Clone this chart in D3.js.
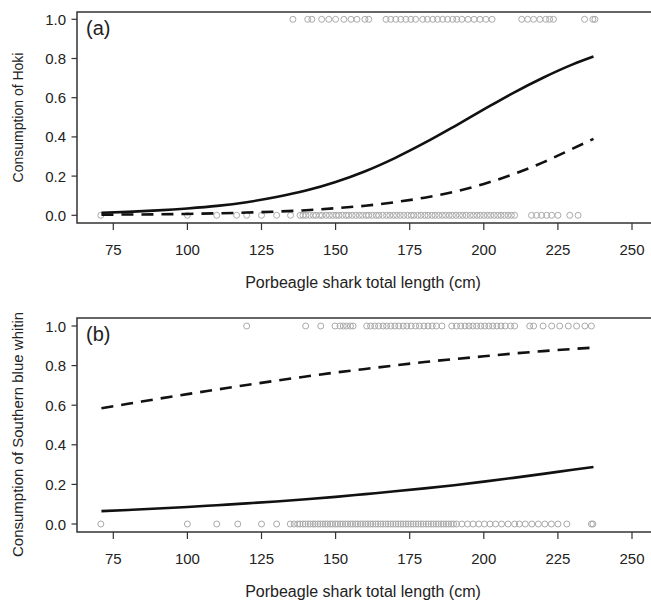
<!DOCTYPE html>
<html>
<head>
<meta charset="utf-8">
<script src="https://cdn.jsdelivr.net/npm/d3@7"></script>
<style>
  body { margin: 0; background: #fff; }
  svg { font-family: "Liberation Sans", Arial, sans-serif; }
</style>
</head>
<body>
<div id="chart"></div>
<script>
// x ticks shared by both panels
var xTicks = [75, 100, 125, 150, 175, 200, 225, 250];
var yTicks = [0, 0.2, 0.4, 0.6, 0.8, 1.0];

// fitted curves
var curveX = [71, 80, 90, 100, 110, 120, 130, 140, 150, 160, 170, 180, 190, 200, 210, 220, 230, 237];
var hokiSolid = [0.013, 0.0175, 0.025, 0.035, 0.048, 0.067, 0.093, 0.126, 0.17, 0.225, 0.292, 0.369, 0.453, 0.54, 0.625, 0.702, 0.77, 0.81];
var hokiDashed = [0.003, 0.004, 0.005, 0.007, 0.01, 0.014, 0.019, 0.026, 0.036, 0.049, 0.067, 0.09, 0.12, 0.16, 0.21, 0.27, 0.34, 0.39];
var sbwSolid = [0.065, 0.071, 0.078, 0.086, 0.095, 0.104, 0.114, 0.125, 0.137, 0.151, 0.165, 0.18, 0.196, 0.214, 0.233, 0.253, 0.274, 0.288];
var sbwDashed = [0.585, 0.607, 0.632, 0.656, 0.679, 0.702, 0.724, 0.745, 0.765, 0.783, 0.801, 0.818, 0.833, 0.847, 0.861, 0.873, 0.884, 0.891];

// observed sharks: lengths with prey present (1) / absent (0)
var hokiYes = [135.6, 140.6, 142, 145.3, 147.7, 150, 152.8, 155.2, 157.2, 159.9, 161.2, 167, 168.6, 170.3, 172, 173.7, 175.4, 177,
  179.4, 181, 182.8, 184.4, 186.1, 187.8, 189.5, 190.9, 192.6, 194.7, 196.7, 198.7, 200.7, 202.8,
  212.8, 214.8, 216.8, 218.9, 220.9, 222.2, 223.5, 234, 236.8, 237.5];
var hokiNo = [70.8, 100, 109.9, 116.6, 120, 125, 130.1, 134.8, 138, 139, 140, 141.2, 142.5, 143.4, 144.6, 145.5, 146.8, 147.9, 149,
  150.2, 151.1, 152.3, 153.5, 154.4, 155.6, 156.8, 158, 159.1, 160.3, 161.2, 162.4, 163.7, 164.6, 165.9, 167.2, 168.3,
  169.5, 170.6, 171.8, 173, 174.3, 175.5, 176.4, 177.7, 178.8, 180.1, 181.2, 182.5, 183.6, 184.8, 186, 187.1, 188.3,
  189.4, 190.6, 191.8, 192.9, 194.1, 195.4, 196.5, 197.7, 198.8, 200, 201.2, 202.3, 203.5, 204.7, 205.8, 207, 208.2,
  209.3, 210.4, 216.1, 217.8, 219.5, 221.2, 222.9, 225, 229, 231.8];
var sbwYes = [120, 139.9, 145, 149.8, 151.5, 152.6, 153.7, 155, 155.9, 160.5, 161.8, 163.2, 164.5, 166, 167.2, 168.6, 170, 171.3,
  172.8, 174, 175.5, 177, 178.3, 179.8, 181.2, 182.6, 184, 185.9, 189.2, 190.8, 192.2, 193.7, 195, 196.3, 197.6, 199,
  200.3, 201.7, 203, 204.4, 205.8, 207.2, 209, 210.4, 215.5, 216.8, 220, 222.9, 225.6, 228.5, 231.3, 234.1, 236.3];
var sbwNo = [70.8, 100, 109.9, 117, 125, 130.1, 134.7, 136, 137.2, 138, 139, 139.8, 140.7, 141.5, 142.4, 143.1, 144, 144.8, 145.7,
  146.5, 147.3, 148.2, 149, 149.9, 150.7, 151.6, 152.4, 153.3, 154.1, 155, 155.8, 156.7, 157.5, 158.4, 159.2, 160.1,
  160.9, 161.8, 162.6, 163.5, 164.3, 165.2, 166, 166.9, 167.7, 168.6, 169.4, 170.3, 171.1, 172, 172.8, 173.7, 174.5,
  175.4, 176.2, 177.1, 177.9, 178.8, 179.6, 180.5, 181.3, 182.2, 183, 183.9, 184.7, 185.6, 186.4, 187.3, 188.1, 189,
  189.8, 190.8, 192.6, 194.5, 196.4, 198.3, 200.2, 202.1, 204, 206, 208.2, 210.4, 212, 214, 216.2, 218.4, 220.6,
  222.8, 225, 228, 236.3, 236.8];

var svg = d3.select('#chart')
  .append('svg')
    .attr('width', 651)
    .attr('height', 601);

var x = d3.scaleLinear().domain([75, 250]).range([113.3, 632]);

var panels = [
  { top: 12, bottom: 223, y0: 215.3, y1: 19.3, label: '(a)', title: 'Consumption of Hoki', titleSize: 14,
    solid: hokiSolid, dashed: hokiDashed, yes: hokiYes, no: hokiNo, titleY: 117.5, anchor: 'middle' },
  { top: 318, bottom: 532, y0: 524, y1: 326, label: '(b)', title: 'Consumption of Southern blue whitin', titleSize: 15,
    solid: sbwSolid, dashed: sbwDashed, yes: sbwYes, no: sbwNo, titleY: 557, anchor: 'start' }
];

panels.forEach(function(p) {
  var y = d3.scaleLinear().domain([0, 1]).range([p.y0, p.y1]);
  var g = svg.append('g');

  // frame: left, top, bottom (right side runs off the page)
  g.append('path')
    .attr('d', 'M651,' + p.top + 'H77V' + p.bottom + 'H651')
    .attr('fill', 'none')
    .attr('stroke', '#333')
    .style('stroke-width', 1.5);

  // y axis ticks
  g.selectAll('.yt').data(yTicks).enter().append('line')
    .attr('x1', 71.5).attr('x2', 77)
    .attr('y1', function(d) { return y(d); })
    .attr('y2', function(d) { return y(d); })
    .attr('stroke', '#333').style('stroke-width', 1.2);
  g.selectAll('.yl').data(yTicks).enter().append('text')
    .attr('x', 66)
    .attr('y', function(d) { return y(d) + 5.5; })
    .attr('text-anchor', 'end')
    .style('font-size', '15px')
    .attr('fill', '#222')
    .text(function(d) { return d.toFixed(1); });

  // x axis ticks
  g.selectAll('.xt').data(xTicks).enter().append('line')
    .attr('x1', function(d) { return x(d); })
    .attr('x2', function(d) { return x(d); })
    .attr('y1', p.bottom).attr('y2', p.bottom + 7)
    .attr('stroke', '#333').style('stroke-width', 1.2);
  g.selectAll('.xl').data(xTicks).enter().append('text')
    .attr('x', function(d) { return x(d); })
    .attr('y', p.bottom + 32)
    .attr('text-anchor', 'middle')
    .style('font-size', '15px')
    .attr('fill', '#222')
    .text(function(d) { return d; });

  g.append('text')
    .attr('x', 363)
    .attr('y', p.bottom + 65)
    .attr('text-anchor', 'middle')
    .style('font-size', '16px')
    .attr('fill', '#222')
    .text('Porbeagle shark total length (cm)');

  g.append('text')
    .attr('transform', 'translate(23,' + p.titleY + ') rotate(-90)')
    .attr('text-anchor', p.anchor)
    .style('font-size', p.titleSize + 'px')
    .attr('fill', '#222')
    .text(p.title);

  g.append('text')
    .attr('x', 86)
    .attr('y', p.top + 23)
    .style('font-size', '20px')
    .attr('fill', '#222')
    .text(p.label);

  // observations
  g.selectAll('.yes').data(p.yes).enter().append('circle')
    .attr('cx', function(d) { return x(d); })
    .attr('cy', y(1))
    .attr('r', 3)
    .attr('fill', 'none')
    .attr('stroke', '#aaa')
    .style('stroke-width', 1);
  g.selectAll('.no').data(p.no).enter().append('circle')
    .attr('cx', function(d) { return x(d); })
    .attr('cy', y(0))
    .attr('r', 3)
    .attr('fill', 'none')
    .attr('stroke', '#aaa')
    .style('stroke-width', 1);

  var line = d3.line()
    .x(function(d, i) { return x(curveX[i]); })
    .y(function(d) { return y(d); })
    .curve(d3.curveMonotoneX);

  g.append('path')
    .attr('d', line(p.dashed))
    .attr('fill', 'none')
    .attr('stroke', '#111')
    .style('stroke-width', 2.6)
    .style('stroke-dasharray', '12,8');
  g.append('path')
    .attr('d', line(p.solid))
    .attr('fill', 'none')
    .attr('stroke', '#111')
    .style('stroke-width', 2.6);
});
</script>
</body>
</html>
